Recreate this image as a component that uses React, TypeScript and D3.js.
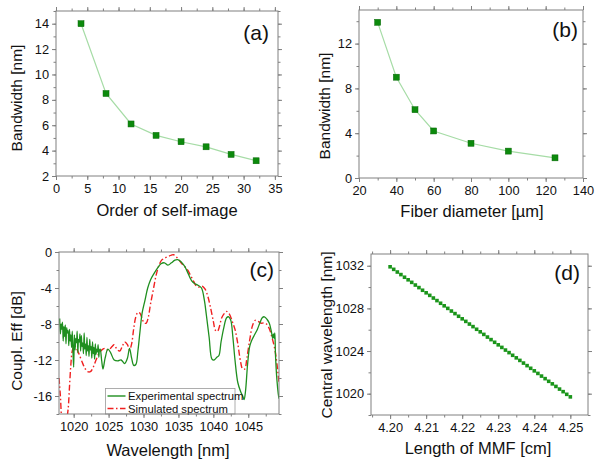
import React, { useEffect, useRef } from "react";
import * as d3 from "d3";

const W = 595;
const H = 460;
const FONT = "'Liberation Sans', Arial, sans-serif";
const FRAME = "#808080";

// (a) bandwidth vs order of self-image
const orderX = [4, 8, 12, 16, 20, 24, 28, 32];
const orderBw = [14, 8.5, 6.1, 5.2, 4.7, 4.3, 3.7, 3.2];

// (b) bandwidth vs fiber diameter
const diamX = [30, 40, 50, 60, 80, 100, 125];
const diamBw = [13.9, 9.0, 6.1, 4.2, 3.1, 2.4, 1.8];

// (c) experimental spectrum
const expWl = [
  1018.0, 1018.1, 1018.2, 1018.3, 1018.4, 1018.5, 1018.6, 1018.7, 1018.8, 1018.9,
  1019.0, 1019.1, 1019.2, 1019.3, 1019.4, 1019.5, 1019.6, 1019.7, 1019.8, 1019.9,
  1020.0, 1020.1, 1020.2, 1020.3, 1020.4, 1020.5, 1020.6, 1020.7, 1020.8, 1020.9,
  1021.0, 1021.1, 1021.2, 1021.3, 1021.4, 1021.5, 1021.6, 1021.7, 1021.8, 1021.9,
  1022.0, 1022.1, 1022.2, 1022.3, 1022.4, 1022.5, 1022.6, 1022.7, 1022.8, 1022.9,
  1023.0, 1023.1, 1023.2, 1023.3, 1023.4, 1023.5, 1023.6, 1023.7,
  1023.8, 1024.0, 1024.2, 1024.5, 1024.9, 1025.3, 1025.8, 1026.3, 1026.8, 1027.3,
  1027.7, 1028.0, 1028.3, 1028.6, 1028.9, 1029.2, 1029.5, 1029.8, 1030.2, 1030.6,
  1031.0, 1031.5, 1032.0, 1032.5, 1033.0, 1033.5, 1034.0, 1034.5, 1034.9, 1035.4,
  1035.9, 1036.4, 1036.9, 1037.3, 1037.8, 1038.3, 1038.7, 1039.0, 1039.4, 1039.8,
  1040.1, 1040.5, 1040.8, 1041.1, 1041.5, 1041.9, 1042.2, 1042.5, 1042.8, 1043.1,
  1043.5, 1043.9, 1044.2, 1044.4, 1044.6, 1044.9, 1045.2, 1045.5, 1045.9, 1046.3,
  1046.7, 1047.0, 1047.3, 1047.7, 1048.0, 1048.3, 1048.5, 1048.6, 1048.7, 1048.8,
  1048.9, 1049.1, 1049.3, 1049.4,
];
const expDb = [
  -7.4, -9.1, -8.0, -8.6, -7.8, -9.9, -8.3, -9.4, -8.1, -10.2,
  -8.4, -9.0, -8.7, -10.4, -8.6, -9.9, -9.2, -10.6, -8.8, -11.0,
  -12.8, -9.2, -10.9, -9.6, -10.1, -8.8, -11.2, -9.7, -10.0, -9.1,
  -11.0, -9.3, -10.5, -10.1, -11.3, -9.0, -10.8, -10.2, -11.5, -9.5,
  -11.0, -10.4, -11.6, -9.7, -10.9, -10.5, -11.8, -10.0, -11.3, -10.6,
  -11.9, -10.2, -11.4, -10.8, -11.1, -10.3, -11.7, -10.9,
  -10.8, -12.0, -13.0, -11.8, -10.8, -11.2, -12.0, -12.1, -12.0, -12.4,
  -11.8, -10.7, -11.8, -12.6, -12.5, -11.0, -8.8, -6.8, -5.4, -4.0,
  -3.1, -2.4, -1.8, -1.3, -1.2, -1.45, -1.2, -0.9, -0.85, -1.1,
  -1.6, -2.4, -3.2, -3.5, -3.7, -4.0, -5.3, -7.0, -9.5, -11.9,
  -12.0, -11.7, -11.5, -10.0, -8.4, -7.3, -7.2, -7.6, -9.5, -12.0,
  -14.5, -15.5, -16.0, -16.4, -15.5, -12.5, -10.5, -9.8, -9.2, -8.6,
  -7.8, -7.3, -7.2, -7.5, -7.9, -8.8, -9.6, -9.1, -9.6, -9.0,
  -11.5, -14.2, -15.8, -16.3,
];

// (c) simulated spectrum
const simWl = [
  1017.9, 1018.1, 1018.3, 1018.6, 1018.9, 1019.2, 1019.4, 1019.6, 1019.8, 1020.1,
  1020.4, 1020.8, 1021.2, 1021.6, 1022.0, 1022.4, 1022.8, 1023.2, 1023.6, 1024.0,
  1024.5, 1025.0, 1025.5, 1025.8, 1026.2, 1026.6, 1027.0, 1027.3, 1027.7, 1028.0,
  1028.3, 1028.6, 1028.9, 1029.2, 1029.5, 1029.8, 1030.1, 1030.4, 1030.7, 1031.0,
  1031.4, 1031.8, 1032.2, 1032.6, 1033.0, 1033.5, 1034.0, 1034.3, 1034.7, 1035.1,
  1035.5, 1036.0, 1036.4, 1036.8, 1037.2, 1037.6, 1038.0, 1038.4, 1038.8, 1039.2,
  1039.6, 1040.0, 1040.3, 1040.6, 1040.9, 1041.2, 1041.6, 1041.9, 1042.3, 1042.7,
  1043.1, 1043.5, 1043.9, 1044.2, 1044.5, 1044.8, 1045.2, 1045.6, 1046.0, 1046.4,
  1046.8, 1047.2, 1047.6, 1048.0, 1048.4, 1048.8, 1049.1, 1049.4,
];
const simDb = [
  -14.0, -16.0, -18.5, -19.5, -19.0, -17.5, -15.0, -12.5, -11.0, -10.4,
  -10.7, -11.4, -12.2, -12.9, -13.3, -13.3, -12.8, -12.0, -11.3, -10.9,
  -10.7, -10.9, -10.5, -10.3, -10.8, -11.0, -10.4, -10.0, -10.3, -10.9,
  -10.2, -8.5, -7.2, -6.7, -6.8, -7.4, -7.9, -7.9, -7.2, -5.8,
  -4.2, -2.6, -1.5, -0.9, -0.7, -0.5, -0.35, -0.3, -0.55, -0.9,
  -1.3, -1.7, -2.1, -2.7, -3.3, -3.8, -3.9, -3.8, -4.1, -4.9,
  -6.2, -7.7, -8.7, -8.8, -8.2, -7.3, -6.8, -6.6, -6.9, -7.7,
  -8.6, -10.2, -12.2, -13.0, -13.0, -11.8, -9.8, -8.2, -7.6, -7.7,
  -7.9, -7.9, -8.0, -8.5, -9.5, -10.8, -12.4, -14.5,
];

// (d) central wavelength vs MMF length
const mmfLen = [
  4.200, 4.201, 4.202, 4.203, 4.204, 4.205, 4.206, 4.207, 4.208, 4.209,
  4.210, 4.211, 4.212, 4.213, 4.214, 4.215, 4.216, 4.217, 4.218, 4.219,
  4.220, 4.221, 4.222, 4.223, 4.224, 4.225, 4.226, 4.227, 4.228, 4.229,
  4.230, 4.231, 4.232, 4.233, 4.234, 4.235, 4.236, 4.237, 4.238, 4.239,
  4.240, 4.241, 4.242, 4.243, 4.244, 4.245, 4.246, 4.247, 4.248, 4.249,
  4.250,
];
const centralWl = [
  1031.90, 1031.66, 1031.41, 1031.17, 1030.92, 1030.68, 1030.44, 1030.19, 1029.95, 1029.70,
  1029.46, 1029.22, 1028.97, 1028.73, 1028.48, 1028.24, 1028.00, 1027.75, 1027.51, 1027.26,
  1027.02, 1026.78, 1026.53, 1026.29, 1026.04, 1025.80, 1025.56, 1025.31, 1025.07, 1024.82,
  1024.58, 1024.34, 1024.09, 1023.85, 1023.60, 1023.36, 1023.12, 1022.87, 1022.63, 1022.38,
  1022.14, 1021.90, 1021.65, 1021.41, 1021.16, 1020.92, 1020.68, 1020.43, 1020.19, 1019.94,
  1019.70,
];

// tick values
const aXTicks = [0, 5, 10, 15, 20, 25, 30, 35];
const aYTicks = [2, 4, 6, 8, 10, 12, 14];
const bXTicks = [20, 40, 60, 80, 100, 120, 140];
const bYTicks = [0, 4, 8, 12];
const cXTicks = [1020, 1025, 1030, 1035, 1040, 1045];
const cYTicks = [0, -4, -8, -12, -16];
const dXTicks = [4.2, 4.21, 4.22, 4.23, 4.24, 4.25];
const dYTicks = [1020, 1024, 1028, 1032];

const panels = [
  {
    id: "a", left: 56, right: 278, top: 11, bottom: 176,
    xDomain: [0, 35.5], yDomain: [2, 15],
    xTicks: aXTicks, xMinor: 2.5, yTicks: aYTicks, yMinor: 1,
    xFmt: (d: number) => `${d}`, yFmt: (d: number) => `${d}`,
    xTitle: "Order of self-image", yTitle: "Bandwidth [nm]",
    xTitlePos: [167, 216], yTitlePos: [22, 98], labelPos: [269, 40],
  },
  {
    id: "b", left: 359, right: 583, top: 10, bottom: 178,
    xDomain: [20, 140], yDomain: [0, 15],
    xTicks: bXTicks, xMinor: 10, yTicks: bYTicks, yMinor: 2,
    xFmt: (d: number) => `${d}`, yFmt: (d: number) => `${d}`,
    xTitle: "Fiber diameter [\u00b5m]", yTitle: "Bandwidth [nm]",
    xTitlePos: [472, 217], yTitlePos: [330, 106], labelPos: [578, 37],
  },
  {
    id: "c", left: 59, right: 279, top: 252, bottom: 414,
    xDomain: [1017.9, 1049.4], yDomain: [-18, 0],
    xTicks: cXTicks, xMinor: 2.5, yTicks: cYTicks, yMinor: 2,
    xFmt: (d: number) => `${d}`, yFmt: (d: number) => `${d}`,
    xTitle: "Wavelength [nm]", yTitle: "Coupl. Eff [dB]",
    xTitlePos: [168, 456], yTitlePos: [22, 341], labelPos: [274, 277],
  },
  {
    id: "d", left: 371, right: 588, top: 254, bottom: 415,
    xDomain: [4.1947, 4.2549], yDomain: [1018, 1033.1],
    xTicks: dXTicks, xMinor: 0.005, yTicks: dYTicks, yMinor: 2,
    xFmt: d3.format(".2f"), yFmt: (d: number) => `${d}`,
    xTitle: "Length of MMF [cm]", yTitle: "Central wavelength [nm]",
    xTitlePos: [478, 454], yTitlePos: [332, 335], labelPos: [580, 280],
  },
];

function minorTicks(domain: number[], step: number) {
  const out: number[] = [];
  const start = Math.ceil(domain[0] / step - 1e-6);
  const end = Math.floor(domain[1] / step + 1e-6);
  for (let i = start; i <= end; i++) out.push(+(i * step).toFixed(6));
  return out;
}

function drawPanel(root: any, p: any) {
  const g = root.append("g");
  const x = d3.scaleLinear().domain(p.xDomain).range([p.left, p.right]);
  const y = d3.scaleLinear().domain(p.yDomain).range([p.bottom, p.top]);

  const style = (s: any) => {
    s.select(".domain").remove();
    s.selectAll("line").attr("stroke", FRAME);
    s.selectAll("text").attr("font-size", 12.8).attr("font-family", FONT).attr("fill", "#111");
  };
  const xm = minorTicks(p.xDomain, p.xMinor);
  const ym = minorTicks(p.yDomain, p.yMinor);

  // minor ticks on all four sides
  g.append("g").attr("transform", `translate(0,${p.bottom})`)
    .call(d3.axisBottom(x).tickValues(xm).tickSize(2.5).tickFormat(() => "")).call(style);
  g.append("g").attr("transform", `translate(0,${p.top})`)
    .call(d3.axisTop(x).tickValues(xm).tickSize(2.5).tickFormat(() => "")).call(style);
  g.append("g").attr("transform", `translate(${p.left},0)`)
    .call(d3.axisLeft(y).tickValues(ym).tickSize(2.5).tickFormat(() => "")).call(style);
  g.append("g").attr("transform", `translate(${p.right},0)`)
    .call(d3.axisRight(y).tickValues(ym).tickSize(2.5).tickFormat(() => "")).call(style);

  // major ticks
  g.append("g").attr("transform", `translate(0,${p.bottom})`)
    .call(d3.axisBottom(x).tickValues(p.xTicks).tickSize(4).tickPadding(4).tickFormat(p.xFmt)).call(style);
  g.append("g").attr("transform", `translate(0,${p.top})`)
    .call(d3.axisTop(x).tickValues(p.xTicks).tickSize(4).tickFormat(() => "")).call(style);
  g.append("g").attr("transform", `translate(${p.left},0)`)
    .call(d3.axisLeft(y).tickValues(p.yTicks).tickSize(4).tickPadding(3).tickFormat(p.yFmt)).call(style);
  g.append("g").attr("transform", `translate(${p.right},0)`)
    .call(d3.axisRight(y).tickValues(p.yTicks).tickSize(4).tickFormat(() => "")).call(style);

  const clipId = `clip-${p.id}`;
  g.append("clipPath").attr("id", clipId).append("rect")
    .attr("x", p.left).attr("y", p.top)
    .attr("width", p.right - p.left).attr("height", p.bottom - p.top);
  const plot = g.append("g").attr("clip-path", `url(#${clipId})`);

  if (p.id === "a" || p.id === "b") {
    const xs = p.id === "a" ? orderX : diamX;
    const ys = p.id === "a" ? orderBw : diamBw;
    const pts = xs.map((v: number, i: number) => [v, ys[i]] as [number, number]);
    plot.append("path")
      .attr("d", d3.line<[number, number]>().x(d => x(d[0])).y(d => y(d[1]))(pts))
      .attr("fill", "none").attr("stroke", "#a6dca6").attr("stroke-width", 1.2);
    plot.selectAll("rect.m").data(pts).enter().append("rect")
      .attr("x", (d: any) => x(d[0]) - 3).attr("y", (d: any) => y(d[1]) - 3)
      .attr("width", 6).attr("height", 6)
      .attr("fill", "#0c8a0c").attr("stroke", "#086808").attr("stroke-width", 0.5);
  }

  if (p.id === "c") {
    const line = d3.line<[number, number]>().x(d => x(d[0])).y(d => y(d[1]))
      .curve(d3.curveCatmullRom.alpha(0.5));
    const sim = simWl.map((v, i) => [v, simDb[i]] as [number, number]);
    const exp = expWl.map((v, i) => [v, expDb[i]] as [number, number]);
    plot.append("path").attr("d", line(sim)).attr("fill", "none")
      .attr("stroke", "#f02020").attr("stroke-width", 1.4)
      .attr("stroke-dasharray", "6,2.5,1.5,2.5");
    plot.append("path").attr("d", line(exp)).attr("fill", "none")
      .attr("stroke", "#1f8f1f").attr("stroke-width", 1.3);

    // legend
    const lg = g.append("g");
    lg.append("rect").attr("x", 105.5).attr("y", 388.5).attr("width", 129.5).attr("height", p.bottom - 388.5)
      .attr("fill", "#fff").attr("stroke", "#999").attr("stroke-width", 0.8);
    const items = [
      { name: "Experimental spectrum", color: "#1f8f1f", dash: null, y: 396 },
      { name: "Simulated spectrum", color: "#f02020", dash: "6,2.5,1.5,2.5", y: 408.5 },
    ];
    items.forEach(it => {
      lg.append("line").attr("x1", 107.5).attr("x2", 125.5).attr("y1", it.y).attr("y2", it.y)
        .attr("stroke", it.color).attr("stroke-width", 1.4)
        .attr("stroke-dasharray", it.dash);
      lg.append("text").attr("x", 128).attr("y", it.y + 4).text(it.name)
        .attr("font-size", 11.3).attr("font-family", FONT).attr("fill", "#111");
    });
  }

  if (p.id === "d") {
    const pts = mmfLen.map((v, i) => [v, centralWl[i]] as [number, number]);
    plot.selectAll("rect.m").data(pts).enter().append("rect")
      .attr("x", (d: any) => x(d[0]) - 1.8).attr("y", (d: any) => y(d[1]) - 1.8)
      .attr("width", 3.6).attr("height", 3.6).attr("fill", "#1a951a");
  }

  // frame
  g.append("rect").attr("x", p.left).attr("y", p.top)
    .attr("width", p.right - p.left).attr("height", p.bottom - p.top)
    .attr("fill", "none").attr("stroke", FRAME).attr("stroke-width", 1);

  // titles
  g.append("text").attr("x", p.xTitlePos[0]).attr("y", p.xTitlePos[1])
    .attr("text-anchor", "middle").attr("font-size", 16.5).attr("font-family", FONT)
    .attr("fill", "#111").text(p.xTitle);
  g.append("text")
    .attr("transform", `translate(${p.yTitlePos[0]},${p.yTitlePos[1]}) rotate(-90)`)
    .attr("text-anchor", "middle").attr("font-size", 15.5).attr("font-family", FONT)
    .attr("fill", "#111").text(p.yTitle);
  g.append("text").attr("x", p.labelPos[0]).attr("y", p.labelPos[1])
    .attr("text-anchor", "end").attr("font-size", 21).attr("font-family", FONT)
    .attr("fill", "#111").text(`(${p.id})`);
}

export default function App() {
  const ref = useRef<SVGSVGElement>(null);

  useEffect(() => {
    const svg = d3.select(ref.current);
    svg.selectAll("*").remove();
    panels.forEach(p => drawPanel(svg, p));
  }, []);

  return (
    <svg
      ref={ref}
      width={W}
      height={H}
      style={{ position: "absolute", left: 0, top: 0, background: "#fff" }}
    />
  );
}
